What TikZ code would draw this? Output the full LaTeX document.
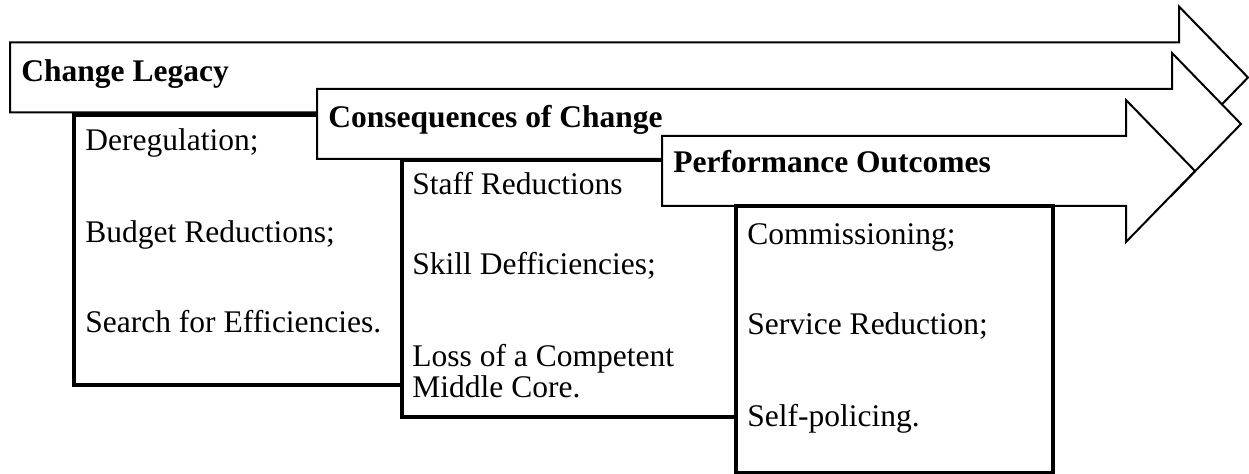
\documentclass[tikz,border=0pt]{standalone}
\usepackage{fontspec}
\setmainfont{Liberation Serif}
\usetikzlibrary{positioning}

% one stage arrow: left x, end of body x, centre y
\newcommand{\stagearrow}[3]{%
  \draw[stagearrow] (#1,{#3-35}) -- (#2,{#3-35}) -- (#2,{#3-71}) -- ({#2+69},#3)
    -- (#2,{#3+71}) -- (#2,{#3+35}) -- (#1,{#3+35}) -- cycle;}

\begin{document}
\begin{tikzpicture}[x=0.5pt, y=-0.5pt,
        stagearrow/.style={draw, fill=white, line width=1pt, line join=miter},
        listbox/.style={draw, fill=white, line width=1.65pt, inner sep=0pt, outer sep=0pt, anchor=north west},
        stagetitle/.style={anchor=base west, inner sep=0pt, font=\fontsize{15.75}{18}\selectfont\bfseries},
        item/.style={anchor=base west, inner sep=0pt, font=\fontsize{15.75}{18}\selectfont}]

    \useasboundingbox (0,0) rectangle (1249,474);

    % Change legacy
    \stagearrow{10}{1179}{77.5}
    \node[stagetitle] (legacy) at (21,82) {Change Legacy};
    \node[listbox, minimum width=213pt, minimum height=135pt] (legacybox) at (74,115) {};
    \node[item] (dereg) at (85,151) {Deregulation;};
    \node[item] (budget) at (85,243) {Budget Reductions;};
    \node[item] (search) at (85,333) {Search for Efficiencies.};

    % Consequences of change
    \stagearrow{317}{1172}{124}
    \node[stagetitle] (conseq) at (328,128) {Consequences of Change};
    \node[listbox, minimum width=199pt, minimum height=128.5pt] (conseqbox) at (402,160) {};
    \node[item] (staff) at (412,195) {Staff Reductions};
    \node[item] (skill) at (412,275) {Skill Defficiencies;};
    \node[item] (loss) at (412,367) {Loss of a Competent};
    \node[item] (middle) at (412,398) {Middle Core.};

    % Performance outcomes
    \stagearrow{662}{1126}{171}
    \node[stagetitle] (perf) at (673,173) {Performance Outcomes};
    \node[listbox, minimum width=158.5pt, minimum height=133.5pt] (perfbox) at (736,206) {};
    \node[item] (commis) at (747,245) {Commissioning;};
    \node[item] (service) at (747,335) {Service Reduction;};
    \node[item] (selfpol) at (747,427) {Self-policing.};

\end{tikzpicture}
\end{document}
